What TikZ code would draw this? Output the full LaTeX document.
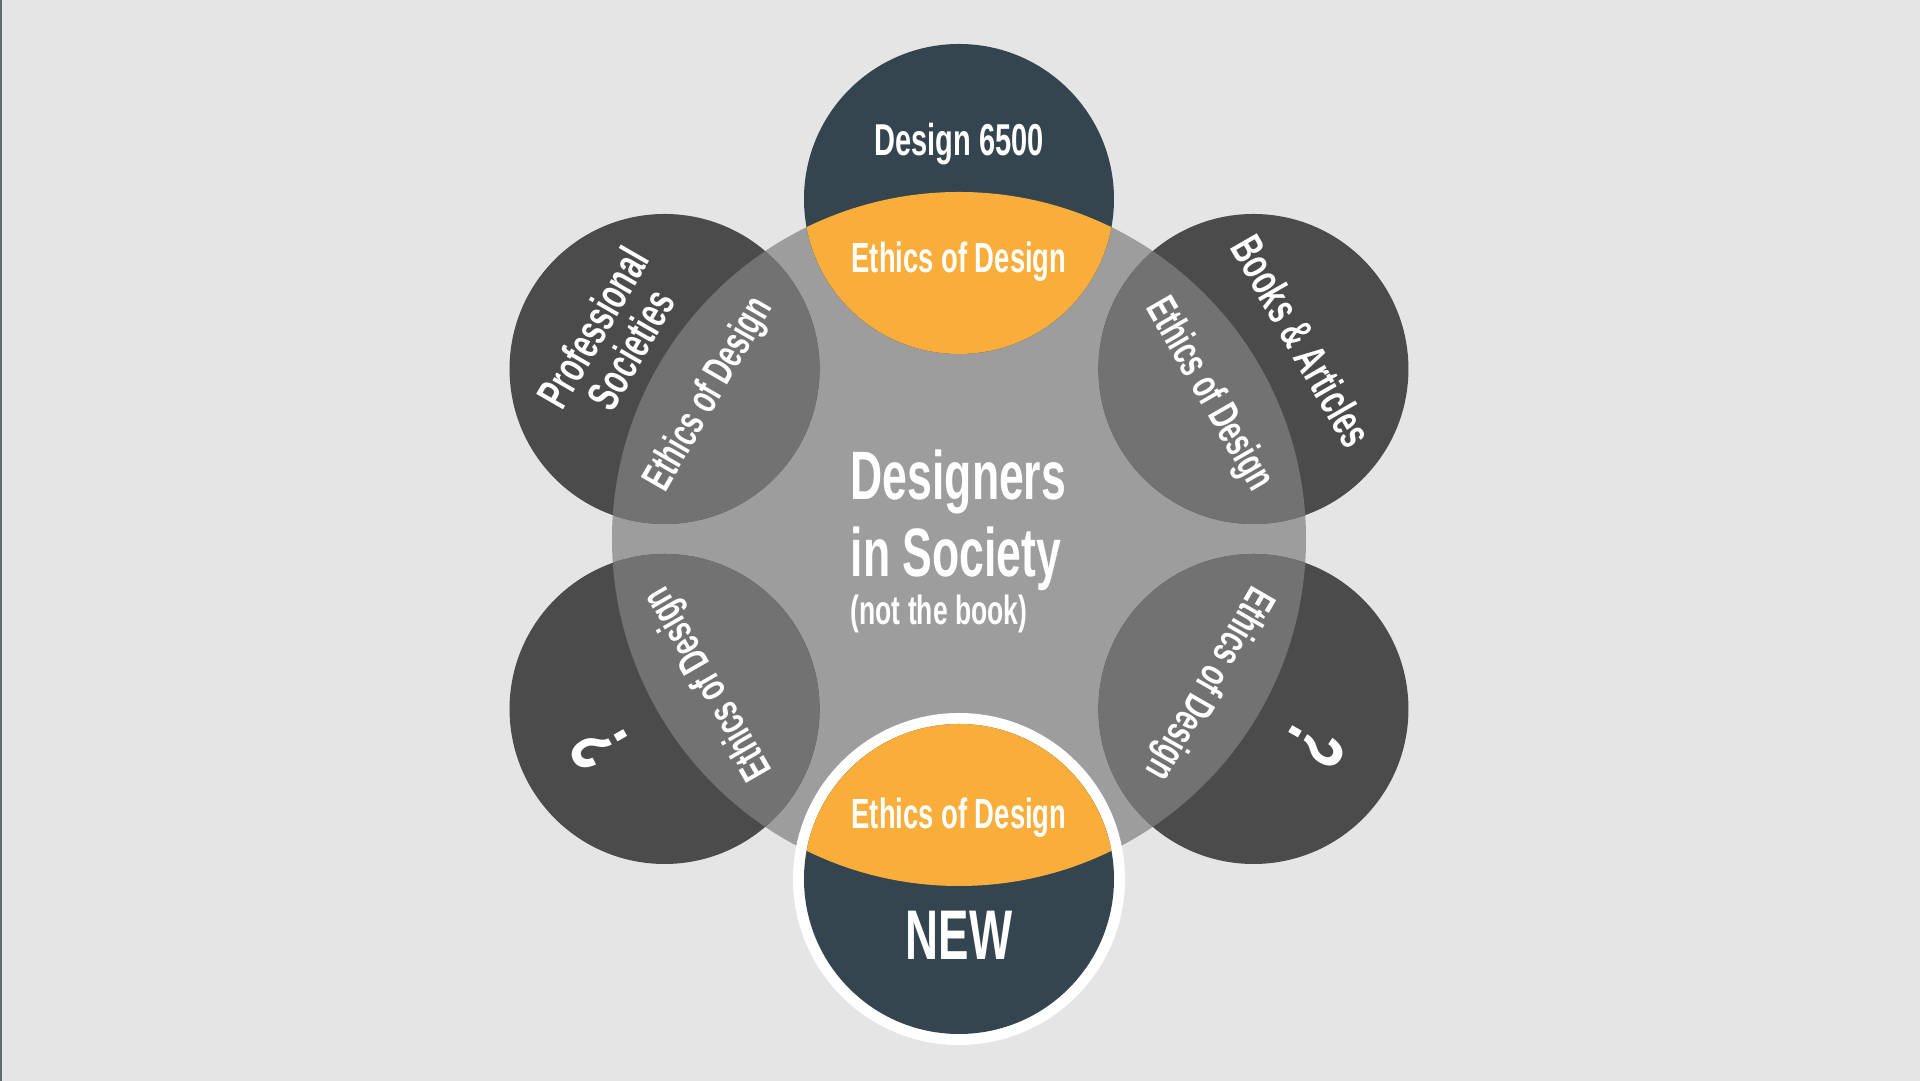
\documentclass[tikz,border=0pt]{standalone}
\usepackage{fontspec}
\setmainfont{Liberation Sans}
\usepackage{graphicx}
\usepackage{tikz}
\usetikzlibrary{positioning}
\definecolor{bggray}{RGB}{229,229,229}
\definecolor{hubgray}{RGB}{157,157,157}
\definecolor{satgray}{RGB}{75,75,75}
\definecolor{lensgray}{RGB}{114,114,114}
\definecolor{slate}{RGB}{52,69,79}
\definecolor{amber}{RGB}{249,174,59}
\definecolor{edgeline}{RGB}{93,107,115}
\newcommand{\condtxt}[1]{\scalebox{0.65}[1]{#1}}
\tikzset{
  hub/.style={circle, fill=hubgray, minimum size=6.94cm, inner sep=0pt},
  sat/.style={circle, fill=satgray, minimum size=3.1cm, inner sep=0pt},
  course/.style={circle, fill=slate, minimum size=3.1cm, inner sep=0pt},
  lbl/.style={text=white, inner sep=0pt, align=center, font=\fontsize{12}{14}\selectfont\bfseries},
  biglbl/.style={lbl, font=\fontsize{12.8}{12.4}\selectfont\bfseries},
  qmark/.style={text=white, inner sep=0pt, font=\fontsize{24}{26}\selectfont\bfseries},
  hubtxt/.style={text=white, inner sep=0pt, anchor=base west, font=\fontsize{19.5}{22}\selectfont\bfseries}
}

\begin{document}
\begin{tikzpicture}
    \useasboundingbox (-9.59,-5.42) rectangle (9.61,5.39);
    \fill[bggray] (-9.59,-5.42) rectangle (9.61,5.39);
    \fill[edgeline] (-9.59,-5.42) rectangle (-9.57,5.39);
    % centre and the four side circles
    \node[hub] (hub) at (0,0) {};
    \foreach \ang/\nm in {150/prof,30/books,210/qleft,330/qright}
      \node[sat] (\nm) at (\ang:3.40) {};
    \begin{scope}
      \clip (hub.center) circle (3.47);
      \foreach \ang in {150,30,210,330}
        \fill[lensgray] (\ang:3.40) circle (1.55);
    \end{scope}
    % course circles, top and bottom
    \node[course] (course) at (0,3.40) {};
    \fill[white] (0,-3.40) circle (1.66);
    \node[course] (new) at (0,-3.40) {};
    \begin{scope}
      \clip (hub.center) circle (3.47);
      \fill[amber] (course.center) circle (1.55);
      \fill[amber] (new.center) circle (1.55);
    \end{scope}
    % labels
    \node[lbl, font=\fontsize{12.7}{14}\selectfont\bfseries] (courselbl) at (0,3.95) {\condtxt{Design 6500}};
    \node[lbl] (courseeth) at (0,2.77) {\condtxt{Ethics of Design}};
    \node[lbl] (neweth) at (0,-2.79) {\condtxt{Ethics of Design}};
    \node[lbl, font=\fontsize{20}{22}\selectfont\bfseries] (newlbl) at (0,-3.96) {\condtxt{NEW}};
    \node[biglbl, rotate=60] (proflbl) at (150:4.01) {\condtxt{Professional}\\\condtxt{Societies}};
    \node[biglbl, rotate=-60] (bookslbl) at (30:3.96) {\condtxt{Books \& Articles}};
    \node[lbl, rotate=60] (profeth) at (150:2.88) {\condtxt{Ethics of Design}};
    \node[lbl, rotate=-60] (bookseth) at (30:2.88) {\condtxt{Ethics of Design}};
    \node[lbl, rotate=120] (qlefteth) at (210:2.88) {\condtxt{Ethics of Design}};
    \node[lbl, rotate=240] (qrighteth) at (330:2.88) {\condtxt{Ethics of Design}};
    \node[qmark, rotate=120] (qleftlbl) at (210:4.15) {\condtxt{?}};
    \node[qmark, rotate=240] (qrightlbl) at (330:4.12) {\condtxt{?}};
    \node[hubtxt] (hubtop) at (-1.09,0.39) {\condtxt{Designers}};
    \node[hubtxt] (hubmid) at (-1.09,-0.38) {\condtxt{in Society}};
    \node[hubtxt, font=\fontsize{11.6}{14}\selectfont\bfseries] (hubnote) at (-1.09,-0.86) {\condtxt{(not the book)}};
\end{tikzpicture}
\end{document}
